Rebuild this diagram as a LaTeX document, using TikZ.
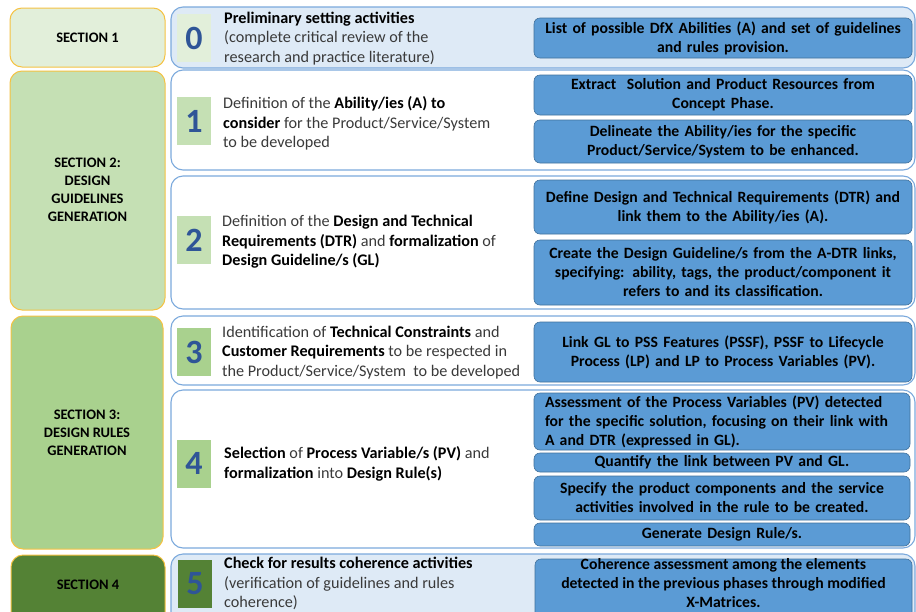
\documentclass[tikz,border=0pt]{standalone}
\usepackage{fontspec}
\setmainfont{Carlito}
\definecolor{sec1}{HTML}{E2EFDA}
\definecolor{sec2}{HTML}{C5E0B4}
\definecolor{sec3}{HTML}{A9D18E}
\definecolor{sec4}{HTML}{548235}
\definecolor{gold}{HTML}{F5C242}
\definecolor{rowline}{HTML}{7BA9DC}
\definecolor{rowfill}{HTML}{DEEAF6}
\definecolor{bluefill}{HTML}{5B9BD5}
\definecolor{blueline}{HTML}{41719C}
\definecolor{numcol}{HTML}{2F5597}
\definecolor{txt}{HTML}{3A3A3A}
\begin{document}
\begin{tikzpicture}[x=1pt,y=-1pt,
  secbox/.style={draw=gold,line width=1pt,rounded corners=12pt},
  rowbox/.style={draw=rowline,line width=1.1pt,rounded corners=12pt},
  numsq/.style={inner sep=0pt,minimum width=34pt,minimum height=48pt,text=numcol,font=\bfseries\fontsize{34}{34}\selectfont},
  sectxt/.style={align=center,font=\bfseries\fontsize{14.5}{18}\selectfont,text=black},
  rowtxt/.style={anchor=west,align=left,inner sep=0pt,font=\fontsize{16.2}{19.5}\selectfont,text=txt},
  bluebox/.style={draw=blueline,fill=bluefill,line width=0.6pt,rounded corners=6pt,inner sep=0pt,minimum width=378pt,align=center,text width=372pt,font=\bfseries\fontsize{15.7}{19}\selectfont,text=black}
]
\useasboundingbox (0,0) rectangle (916,611);

% section boxes
\draw[secbox,fill=sec1] (10,8) rectangle (165,67);
\node[sectxt] (s1) at (87.5,38) {SECTION 1};
\draw[secbox,fill=sec2] (10,71) rectangle (165,310);
\node[sectxt] (s2) at (87.5,190) {SECTION 2:\\DESIGN\\GUIDELINES\\GENERATION};
\draw[secbox,fill=sec3] (11,316) rectangle (163,549);
\node[sectxt] (s3) at (87,433) {SECTION 3:\\DESIGN RULES\\GENERATION};
\draw[secbox,fill=sec4] (11,555) rectangle (165,625);
\node[sectxt] (s4) at (88,585) {SECTION 4};

% row boxes
\draw[rowbox,fill=rowfill] (171,7) rectangle (915,68);
\draw[rowbox,fill=white] (171,70) rectangle (915,170);
\draw[rowbox,fill=white] (171,176) rectangle (915,309);
\draw[rowbox,fill=white] (171,316) rectangle (915,385);
\draw[rowbox,fill=white] (171,390) rectangle (915,548);
\draw[rowbox,fill=rowfill] (171,554) rectangle (915,625);

% number squares
\node[numsq,fill=sec1] (n0) at (194,38) {0};
\node[numsq,fill=sec2] (n1) at (194,121) {1};
\node[numsq,fill=sec2] (n2) at (194,240) {2};
\node[numsq,fill=sec3] (n3) at (194,352) {3};
\node[numsq,fill=sec3] (n4) at (194,463.5) {4};
\node[numsq,fill=sec4] (n5) at (195,584) {5};

% row texts
\node[rowtxt] (t0) at (224,38.5) {\textbf{\color{black}Preliminary setting activities}\\(complete critical review of the\\research and practice literature)};
\node[rowtxt] (t1) at (223,123.5) {Definition of the \textbf{\color{black}Ability/ies (A) to}\\\textbf{\color{black}consider} for the Product/Service/System\\to be developed};
\node[rowtxt] (t2) at (222,242) {Definition of the \textbf{\color{black}Design and Technical}\\\textbf{\color{black}Requirements (DTR)} and \textbf{\color{black}formalization} of\\\textbf{\color{black}Design Guideline/s (GL)}};
\node[rowtxt] (t3) at (222,352.5) {Identification of \textbf{\color{black}Technical Constraints} and\\\textbf{\color{black}Customer Requirements} to be respected in\\the Product/Service/System\ \ to be developed};
\node[rowtxt] (t4) at (224,464) {\textbf{\color{black}Selection} of \textbf{\color{black}Process Variable/s (PV)} and\\\textbf{\color{black}formalization} into \textbf{\color{black}Design Rule(s)}};
\node[rowtxt] (t5) at (224,583.5) {\textbf{\color{black}Check for results coherence activities}\\(verification of guidelines and rules\\coherence)};

% blue boxes
\node[bluebox,minimum height=40pt] (b0) at (723,38) {List of possible DfX Abilities (A) and set of guidelines\\and rules provision.};
\node[bluebox,minimum height=40pt] (b1a) at (723,95) {Extract\ \ Solution and Product Resources from\\Concept Phase.};
\node[bluebox,minimum height=43pt] (b1b) at (723,141.5) {Delineate the Ability/ies for the specific\\Product/Service/System to be enhanced.};
\node[bluebox,minimum height=54pt] (b2a) at (723,207) {Define Design and Technical Requirements (DTR) and\\link them to the Ability/ies (A).};
\node[bluebox,minimum height=65pt] (b2b) at (723,272.5) {Create the Design Guideline/s from the A-DTR links,\\specifying: ability, tags, the product/component it\\refers to and its classification.};
\node[bluebox,minimum height=60pt] (b3) at (723,352) {Link GL to PSS Features (PSSF), PSSF to Lifecycle\\Process (LP) and LP to Process Variables (PV).};
\node[bluebox,minimum width=376pt,minimum height=57pt,align=left,text width=354pt] (b4a) at (722,421.5) {Assessment of the Process Variables (PV) detected\\for the specific solution, focusing on their link with\\A and DTR (expressed in GL).};
\node[bluebox,minimum width=376pt,minimum height=19pt] (b4b) at (722,462.5) {Quantify the link between PV and GL.};
\node[bluebox,minimum width=376pt,minimum height=44pt] (b4c) at (722,498) {Specify the product components and the service\\activities involved in the rule to be created.};
\node[bluebox,minimum width=376pt,minimum height=23pt] (b4d) at (722,534.5) {Generate Design Rule/s.};
\draw[draw=blueline,fill=bluefill,line width=0.6pt,rounded corners=6pt] (535,559) rectangle (912,625);
\node[inner sep=0pt,align=center,font=\bfseries\fontsize{15.7}{19}\selectfont,text=black] (b5) at (723.5,583.5) {Coherence assessment among the elements\\detected in the previous phases through modified\\X-Matrices.};
\end{tikzpicture}
\end{document}
